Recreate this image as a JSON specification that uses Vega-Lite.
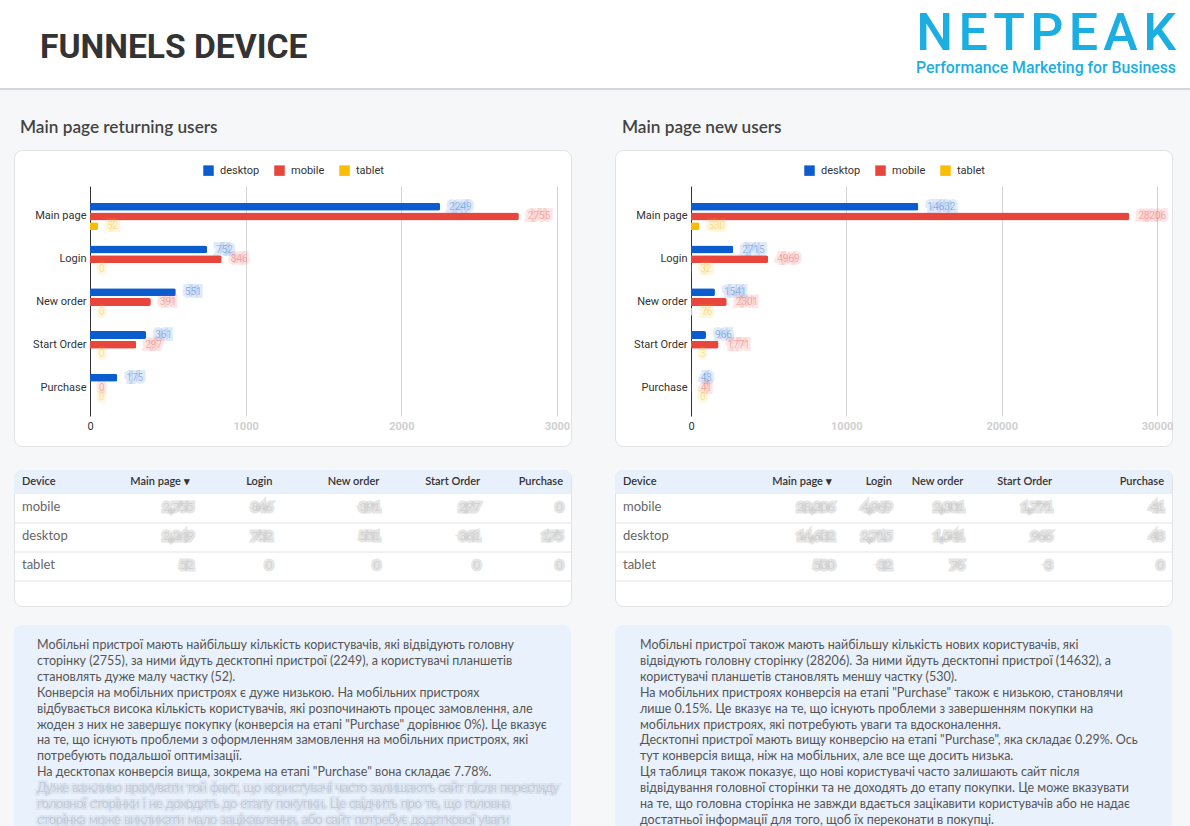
{
  "$schema": "https://vega.github.io/schema/vega-lite/v6.json",
  "background": "#f6f7f9",
  "padding": 0,
  "spacing": 0,
  "config": {"view": {"stroke": null}, "font": "Roboto"},
  "resolve": {"scale": {"color": "independent", "stroke": "independent"}, "legend": {"color": "independent", "stroke": "independent"}},
  "datasets": {
    "returning": [
      {"stage": "Main page", "device": "desktop", "users": 2249},
      {"stage": "Main page", "device": "mobile", "users": 2755},
      {"stage": "Main page", "device": "tablet", "users": 52},
      {"stage": "Login", "device": "desktop", "users": 752},
      {"stage": "Login", "device": "mobile", "users": 846},
      {"stage": "Login", "device": "tablet", "users": 0},
      {"stage": "New order", "device": "desktop", "users": 551},
      {"stage": "New order", "device": "mobile", "users": 391},
      {"stage": "New order", "device": "tablet", "users": 0},
      {"stage": "Start Order", "device": "desktop", "users": 361},
      {"stage": "Start Order", "device": "mobile", "users": 297},
      {"stage": "Start Order", "device": "tablet", "users": 0},
      {"stage": "Purchase", "device": "desktop", "users": 175},
      {"stage": "Purchase", "device": "mobile", "users": 0},
      {"stage": "Purchase", "device": "tablet", "users": 0}
    ],
    "newUsers": [
      {"stage": "Main page", "device": "desktop", "users": 14632},
      {"stage": "Main page", "device": "mobile", "users": 28206},
      {"stage": "Main page", "device": "tablet", "users": 530},
      {"stage": "Login", "device": "desktop", "users": 2715},
      {"stage": "Login", "device": "mobile", "users": 4969},
      {"stage": "Login", "device": "tablet", "users": 32},
      {"stage": "New order", "device": "desktop", "users": 1541},
      {"stage": "New order", "device": "mobile", "users": 2301},
      {"stage": "New order", "device": "tablet", "users": 76},
      {"stage": "Start Order", "device": "desktop", "users": 966},
      {"stage": "Start Order", "device": "mobile", "users": 1771},
      {"stage": "Start Order", "device": "tablet", "users": 3},
      {"stage": "Purchase", "device": "desktop", "users": 43},
      {"stage": "Purchase", "device": "mobile", "users": 41},
      {"stage": "Purchase", "device": "tablet", "users": 0}
    ],
    "notesReturning": [
      {"line": 1, "text": "Мобільні пристрої мають найбільшу кількість користувачів, які відвідують головну"},
      {"line": 2, "text": "сторінку (2755), за ними йдуть десктопні пристрої (2249), а користувачі планшетів"},
      {"line": 3, "text": "становлять дуже малу частку (52)."},
      {"line": 4, "text": "Конверсія на мобільних пристроях є дуже низькою. На мобільних пристроях"},
      {"line": 5, "text": "відбувається висока кількість користувачів, які розпочинають процес замовлення, але"},
      {"line": 6, "text": "жоден з них не завершує покупку (конверсія на етапі \"Purchase\" дорівнює 0%). Це вказує"},
      {"line": 7, "text": "на те, що існують проблеми з оформленням замовлення на мобільних пристроях, які"},
      {"line": 8, "text": "потребують подальшої оптимізації."},
      {"line": 9, "text": "На десктопах конверсія вища, зокрема на етапі \"Purchase\" вона складає 7.78%."},
      {"line": 10, "text": "Дуже важливо врахувати той факт, що користувачі часто залишають сайт після перегляду"},
      {"line": 11, "text": "головної сторінки і не доходять до етапу покупки. Це свідчить про те, що головна"},
      {"line": 12, "text": "сторінка може викликати мало зацікавлення, або сайт потребує додаткової уваги"}
    ],
    "notesNew": [
      {"line": 1, "text": "Мобільні пристрої також мають найбільшу кількість нових користувачів, які"},
      {"line": 2, "text": "відвідують головну сторінку (28206). За ними йдуть десктопні пристрої (14632), а"},
      {"line": 3, "text": "користувачі планшетів становлять меншу частку (530)."},
      {"line": 4, "text": "На мобільних пристроях конверсія на етапі \"Purchase\" також є низькою, становлячи"},
      {"line": 5, "text": "лише 0.15%. Це вказує на те, що існують проблеми з завершенням покупки на"},
      {"line": 6, "text": "мобільних пристроях, які потребують уваги та вдосконалення."},
      {"line": 7, "text": "Десктопні пристрої мають вищу конверсію на етапі \"Purchase\", яка складає 0.29%. Ось"},
      {"line": 8, "text": "тут конверсія вища, ніж на мобільних, але все ще досить низька."},
      {"line": 9, "text": "Ця таблиця також показує, що нові користувачі часто залишають сайт після"},
      {"line": 10, "text": "відвідування головної сторінки та не доходять до етапу покупки. Це може вказувати"},
      {"line": 11, "text": "на те, що головна сторінка не завжди вдається зацікавити користувачів або не надає"},
      {"line": 12, "text": "достатньої інформації для того, щоб їх переконати в покупці."}
    ]
  },
  "vconcat": [
    {
      "spacing": 0,
      "hconcat": [
        {
          "width": 595, "height": 88,
          "view": {"fill": "#ffffff", "stroke": null},
          "data": {"values": [{}]},
          "mark": {"type": "point", "size": 1, "filled": true, "opacity": 0},
          "title": {"text": "FUNNELS DEVICE", "anchor": "start", "dx": 40, "offset": -65, "font": "Roboto", "fontSize": 33.6, "fontWeight": "bold", "color": "#333333"}
        },
        {
          "width": 595, "height": 88,
          "view": {"fill": "#ffffff", "stroke": null},
          "data": {"values": [{}]},
          "mark": {"type": "point", "size": 1, "filled": true, "opacity": 0},
          "title": {
            "text": "N\u200aE\u200aT\u200aP\u200aE\u200aA\u200aK",
            "subtitle": "Performance Marketing for Business",
            "anchor": "end", "dx": -14, "offset": -77,
            "font": "Roboto", "fontSize": 52, "fontWeight": 500, "color": "#1aaee2",
            "subtitleFont": "Roboto", "subtitleFontSize": 15.8, "subtitleFontWeight": 500, "subtitleColor": "#1aaee2", "subtitlePadding": 0
          }
        }
      ]
    },
    {
      "width": 1190, "height": 2,
      "view": {"fill": "#d5d6d8", "stroke": null},
      "data": {"values": [{}]},
      "mark": {"type": "point", "size": 1, "filled": true, "opacity": 0}
    },
    {
      "spacing": 0,
      "resolve": {"scale": {"color": "independent", "stroke": "independent"}, "legend": {"color": "independent", "stroke": "independent"}},
      "hconcat": [
        {
          "width": 13, "height": 1,
          "data": {"values": [{}]},
          "mark": {"type": "point", "size": 1, "filled": true, "opacity": 0}
        },
        {
          "spacing": 0,
          "resolve": {"scale": {"color": "independent", "stroke": "independent"}, "legend": {"color": "independent", "stroke": "independent"}},
          "vconcat": [
            {
              "width": 1, "height": 28,
              "data": {"values": [{}]},
              "mark": {"type": "point", "size": 1, "filled": true, "opacity": 0}
            },
            {
              "width": 557, "height": 296,
              "view": {"fill": "#ffffff", "cornerRadius": 8, "stroke": "#e1e2e5"},
              "title": {"text": "Main page returning users", "anchor": "start", "dx": 6, "offset": 13.5, "font": "Lato", "fontSize": 17.2, "fontWeight": 600, "color": "#444444"},
              "data": {"name": "returning"},
              "encoding": {
                "y": {
                  "field": "stage", "type": "nominal",
                  "scale": {"domain": ["Main page", "Login", "New order", "Start Order", "Purchase"], "range": [37, 267], "paddingInner": 0.36, "paddingOuter": 0.37},
                  "axis": {"orient": "left", "offset": -76, "domain": false, "ticks": false, "grid": false, "labelPadding": 4, "labelFont": "Roboto", "labelFontSize": 11, "labelColor": "#333333", "title": null}
                },
                "yOffset": {"field": "device", "type": "nominal", "scale": {"domain": ["desktop", "mobile", "tablet"], "paddingInner": 0.18}},
                "x": {
                  "field": "users", "type": "quantitative",
                  "scale": {"domain": [0, 3000], "range": [76, 543], "nice": false},
                  "axis": {
                    "orient": "bottom", "offset": -30, "values": [0, 1000, 2000, 3000], "format": "d",
                    "domain": false, "grid": false, "ticks": true, "tickSize": -230, "tickWidth": 1,
                    "tickColor": {"condition": {"test": "datum.value === 0", "value": "#333333"}, "value": "#d4d4d4"},
                    "labelPadding": 234, "labelFont": "Roboto", "labelFontSize": 11, "labelFlush": false,
                    "labelColor": {"condition": {"test": "datum.value === 0", "value": "#333333"}, "value": "#d0d0d0"},
                    "labelFontWeight": {"condition": {"test": "datum.value === 0", "value": "normal"}, "value": "bold"},
                    "title": null
                  }
                }
              },
              "layer": [
                {
                  "mark": {"type": "bar", "cornerRadiusEnd": 2},
                  "encoding": {
                    "color": {
                      "field": "device", "type": "nominal",
                      "scale": {"domain": ["desktop", "mobile", "tablet"], "range": ["#0b5ccf", "#e8453c", "#fbbc04"]},
                      "legend": {"orient": "none", "legendX": 189, "legendY": 15, "direction": "horizontal", "title": null, "symbolType": "square", "symbolSize": 110, "symbolStrokeWidth": 0, "labelFont": "Roboto", "labelFontSize": 11, "labelColor": "#333333", "labelOffset": 6, "columnPadding": 14}
                    }
                  }
                },
                {
                  "mark": {"type": "text", "align": "left", "baseline": "middle", "dx": 9, "font": "Roboto", "fontSize": 10, "fillOpacity": 0.38, "strokeWidth": 6, "strokeOpacity": 0.12},
                  "encoding": {
                    "text": {"field": "users", "type": "quantitative", "format": "d"},
                    "color": {"field": "device", "type": "nominal", "scale": {"domain": ["desktop", "mobile", "tablet"], "range": ["#0b5ccf", "#e8453c", "#fbbc04"]}, "legend": null},
                    "stroke": {"field": "device", "type": "nominal", "scale": {"domain": ["desktop", "mobile", "tablet"], "range": ["#0b5ccf", "#e8453c", "#fbbc04"]}, "legend": null}
                  }
                }
              ]
            },
            {
              "width": 1, "height": 22,
              "data": {"values": [{}]},
              "mark": {"type": "point", "size": 1, "filled": true, "opacity": 0}
            },
            {
              "width": 557, "height": 136,
              "view": {"fill": "#ffffff", "cornerRadius": 8, "stroke": "#e1e2e5"},
              "data": {"name": "returning"},
              "layer": [
                {
                  "data": {"values": [{}]},
                  "mark": {"type": "rect", "color": "#e8f0fc", "clip": true},
                  "encoding": {"y": {"datum": "header", "type": "nominal", "scale": {"type": "band", "domain": ["header", "mobile", "desktop", "tablet"], "range": [-5, 111], "paddingInner": 0, "paddingOuter": 0}, "axis": null}}
                },
                {
                  "transform": [{"filter": "datum.stage === 'Main page'"}],
                  "mark": {"type": "rule", "color": "#e3e3e3"},
                  "encoding": {"y": {"field": "device", "type": "nominal", "bandPosition": 1, "scale": {"type": "band", "domain": ["header", "mobile", "desktop", "tablet"], "range": [-5, 111], "paddingInner": 0, "paddingOuter": 0}, "axis": null}}
                },
                {
                  "data": {"values": [{}]},
                  "mark": {"type": "text", "align": "left", "baseline": "middle", "dx": 8, "dy": 2.5, "font": "Lato", "fontSize": 11, "fontWeight": 600, "color": "#333333"},
                  "encoding": {
                    "x": {"datum": "Device", "type": "nominal", "bandPosition": 0, "scale": {"type": "band", "domain": ["Device", "Main page", "Login", "New order", "Start Order", "Purchase"], "paddingInner": 0, "paddingOuter": 0}, "axis": null},
                    "y": {"datum": "header", "type": "nominal", "scale": {"type": "band", "domain": ["header", "mobile", "desktop", "tablet"], "range": [-5, 111], "paddingInner": 0, "paddingOuter": 0}, "axis": null},
                    "text": {"value": "Device"}
                  }
                },
                {
                  "transform": [{"filter": "datum.stage === 'Main page'"}],
                  "mark": {"type": "text", "align": "left", "baseline": "middle", "dx": 8, "dy": -1.5, "font": "Lato", "fontSize": 13, "color": "#666666"},
                  "encoding": {
                    "x": {"datum": "Device", "type": "nominal", "bandPosition": 0, "scale": {"type": "band", "domain": ["Device", "Main page", "Login", "New order", "Start Order", "Purchase"], "paddingInner": 0, "paddingOuter": 0}, "axis": null},
                    "y": {"field": "device", "type": "nominal", "scale": {"type": "band", "domain": ["header", "mobile", "desktop", "tablet"], "range": [-5, 111], "paddingInner": 0, "paddingOuter": 0}, "axis": null},
                    "text": {"field": "device", "type": "nominal"}
                  }
                },
                {
                  "data": {"values": [{}]},
                  "mark": {"type": "text", "align": "right", "baseline": "middle", "dx": -10, "dy": 2.5, "font": "Lato", "fontSize": 11, "fontWeight": 600, "color": "#333333"},
                  "encoding": {
                    "x": {"datum": "Main page", "type": "nominal", "bandPosition": 1, "scale": {"type": "band", "domain": ["Device", "Main page", "Login", "New order", "Start Order", "Purchase"], "paddingInner": 0, "paddingOuter": 0}, "axis": null},
                    "y": {"datum": "header", "type": "nominal", "scale": {"type": "band", "domain": ["header", "mobile", "desktop", "tablet"], "range": [-5, 111], "paddingInner": 0, "paddingOuter": 0}, "axis": null},
                    "text": {"value": "Main page  ▾"}
                  }
                },
                {
                  "data": {"values": [{}]},
                  "mark": {"type": "text", "align": "right", "baseline": "middle", "dx": -20, "dy": 2.5, "font": "Lato", "fontSize": 11, "fontWeight": 600, "color": "#333333"},
                  "encoding": {
                    "x": {"datum": "Login", "type": "nominal", "bandPosition": 1, "scale": {"type": "band", "domain": ["Device", "Main page", "Login", "New order", "Start Order", "Purchase"], "paddingInner": 0, "paddingOuter": 0}, "axis": null},
                    "y": {"datum": "header", "type": "nominal", "scale": {"type": "band", "domain": ["header", "mobile", "desktop", "tablet"], "range": [-5, 111], "paddingInner": 0, "paddingOuter": 0}, "axis": null},
                    "text": {"value": "Login"}
                  }
                },
                {
                  "data": {"values": [{}]},
                  "mark": {"type": "text", "align": "right", "baseline": "middle", "dx": -6, "dy": 2.5, "font": "Lato", "fontSize": 11, "fontWeight": 600, "color": "#333333"},
                  "encoding": {
                    "x": {"datum": "New order", "type": "nominal", "bandPosition": 1, "scale": {"type": "band", "domain": ["Device", "Main page", "Login", "New order", "Start Order", "Purchase"], "paddingInner": 0, "paddingOuter": 0}, "axis": null},
                    "y": {"datum": "header", "type": "nominal", "scale": {"type": "band", "domain": ["header", "mobile", "desktop", "tablet"], "range": [-5, 111], "paddingInner": 0, "paddingOuter": 0}, "axis": null},
                    "text": {"value": "New order"}
                  }
                },
                {
                  "data": {"values": [{}]},
                  "mark": {"type": "text", "align": "right", "baseline": "middle", "dx": 2, "dy": 2.5, "font": "Lato", "fontSize": 11, "fontWeight": 600, "color": "#333333"},
                  "encoding": {
                    "x": {"datum": "Start Order", "type": "nominal", "bandPosition": 1, "scale": {"type": "band", "domain": ["Device", "Main page", "Login", "New order", "Start Order", "Purchase"], "paddingInner": 0, "paddingOuter": 0}, "axis": null},
                    "y": {"datum": "header", "type": "nominal", "scale": {"type": "band", "domain": ["header", "mobile", "desktop", "tablet"], "range": [-5, 111], "paddingInner": 0, "paddingOuter": 0}, "axis": null},
                    "text": {"value": "Start Order"}
                  }
                },
                {
                  "data": {"values": [{}]},
                  "mark": {"type": "text", "align": "right", "baseline": "middle", "dx": -8, "dy": 2.5, "font": "Lato", "fontSize": 11, "fontWeight": 600, "color": "#333333"},
                  "encoding": {
                    "x": {"datum": "Purchase", "type": "nominal", "bandPosition": 1, "scale": {"type": "band", "domain": ["Device", "Main page", "Login", "New order", "Start Order", "Purchase"], "paddingInner": 0, "paddingOuter": 0}, "axis": null},
                    "y": {"datum": "header", "type": "nominal", "scale": {"type": "band", "domain": ["header", "mobile", "desktop", "tablet"], "range": [-5, 111], "paddingInner": 0, "paddingOuter": 0}, "axis": null},
                    "text": {"value": "Purchase"}
                  }
                },
                {
                  "transform": [{"filter": "datum.stage === 'Main page'"}],
                  "mark": {"type": "text", "align": "right", "baseline": "middle", "dx": -6, "dy": -1.5, "font": "Lato", "fontSize": 12, "fill": "#a0a0a0", "fillOpacity": 0.35, "stroke": "#c4c4c4", "strokeWidth": 5, "strokeOpacity": 0.45},
                  "encoding": {
                    "x": {"field": "stage", "type": "nominal", "bandPosition": 1, "scale": {"type": "band", "domain": ["Device", "Main page", "Login", "New order", "Start Order", "Purchase"], "paddingInner": 0, "paddingOuter": 0}, "axis": null},
                    "y": {"field": "device", "type": "nominal", "scale": {"type": "band", "domain": ["header", "mobile", "desktop", "tablet"], "range": [-5, 111], "paddingInner": 0, "paddingOuter": 0}, "axis": null},
                    "text": {"field": "users", "type": "quantitative", "format": ",d"}
                  }
                },
                {
                  "transform": [{"filter": "datum.stage === 'Login'"}],
                  "mark": {"type": "text", "align": "right", "baseline": "middle", "dx": -20, "dy": -1.5, "font": "Lato", "fontSize": 12, "fill": "#a0a0a0", "fillOpacity": 0.35, "stroke": "#c4c4c4", "strokeWidth": 5, "strokeOpacity": 0.45},
                  "encoding": {
                    "x": {"field": "stage", "type": "nominal", "bandPosition": 1, "scale": {"type": "band", "domain": ["Device", "Main page", "Login", "New order", "Start Order", "Purchase"], "paddingInner": 0, "paddingOuter": 0}, "axis": null},
                    "y": {"field": "device", "type": "nominal", "scale": {"type": "band", "domain": ["header", "mobile", "desktop", "tablet"], "range": [-5, 111], "paddingInner": 0, "paddingOuter": 0}, "axis": null},
                    "text": {"field": "users", "type": "quantitative", "format": ",d"}
                  }
                },
                {
                  "transform": [{"filter": "datum.stage === 'New order'"}],
                  "mark": {"type": "text", "align": "right", "baseline": "middle", "dx": -5, "dy": -1.5, "font": "Lato", "fontSize": 12, "fill": "#a0a0a0", "fillOpacity": 0.35, "stroke": "#c4c4c4", "strokeWidth": 5, "strokeOpacity": 0.45},
                  "encoding": {
                    "x": {"field": "stage", "type": "nominal", "bandPosition": 1, "scale": {"type": "band", "domain": ["Device", "Main page", "Login", "New order", "Start Order", "Purchase"], "paddingInner": 0, "paddingOuter": 0}, "axis": null},
                    "y": {"field": "device", "type": "nominal", "scale": {"type": "band", "domain": ["header", "mobile", "desktop", "tablet"], "range": [-5, 111], "paddingInner": 0, "paddingOuter": 0}, "axis": null},
                    "text": {"field": "users", "type": "quantitative", "format": ",d"}
                  }
                },
                {
                  "transform": [{"filter": "datum.stage === 'Start Order'"}],
                  "mark": {"type": "text", "align": "right", "baseline": "middle", "dx": 2, "dy": -1.5, "font": "Lato", "fontSize": 12, "fill": "#a0a0a0", "fillOpacity": 0.35, "stroke": "#c4c4c4", "strokeWidth": 5, "strokeOpacity": 0.45},
                  "encoding": {
                    "x": {"field": "stage", "type": "nominal", "bandPosition": 1, "scale": {"type": "band", "domain": ["Device", "Main page", "Login", "New order", "Start Order", "Purchase"], "paddingInner": 0, "paddingOuter": 0}, "axis": null},
                    "y": {"field": "device", "type": "nominal", "scale": {"type": "band", "domain": ["header", "mobile", "desktop", "tablet"], "range": [-5, 111], "paddingInner": 0, "paddingOuter": 0}, "axis": null},
                    "text": {"field": "users", "type": "quantitative", "format": ",d"}
                  }
                },
                {
                  "transform": [{"filter": "datum.stage === 'Purchase'"}],
                  "mark": {"type": "text", "align": "right", "baseline": "middle", "dx": -8, "dy": -1.5, "font": "Lato", "fontSize": 12, "fill": "#a0a0a0", "fillOpacity": 0.35, "stroke": "#c4c4c4", "strokeWidth": 5, "strokeOpacity": 0.45},
                  "encoding": {
                    "x": {"field": "stage", "type": "nominal", "bandPosition": 1, "scale": {"type": "band", "domain": ["Device", "Main page", "Login", "New order", "Start Order", "Purchase"], "paddingInner": 0, "paddingOuter": 0}, "axis": null},
                    "y": {"field": "device", "type": "nominal", "scale": {"type": "band", "domain": ["header", "mobile", "desktop", "tablet"], "range": [-5, 111], "paddingInner": 0, "paddingOuter": 0}, "axis": null},
                    "text": {"field": "users", "type": "quantitative", "format": ",d"}
                  }
                }
              ]
            },
            {
              "width": 1, "height": 18,
              "data": {"values": [{}]},
              "mark": {"type": "point", "size": 1, "filled": true, "opacity": 0}
            },
            {
              "width": 557, "height": 206,
              "view": {"fill": "#e9f1fc", "cornerRadius": 8, "stroke": null},
              "data": {"name": "notesReturning"},
              "encoding": {
                "x": {"datum": 0, "type": "quantitative", "scale": {"domain": [0, 1], "range": [23, 534]}, "axis": null},
                "y": {"field": "line", "type": "ordinal", "scale": {"type": "point", "domain": [1, 2, 3, 4, 5, 6, 7, 8, 9, 10, 11, 12], "range": [20, 195], "padding": 0}, "axis": null},
                "text": {"field": "text", "type": "nominal"}
              },
              "layer": [
                {
                  "transform": [{"filter": "datum.line <= 9"}],
                  "mark": {"type": "text", "align": "left", "baseline": "middle", "font": "Lato", "fontSize": 12.5, "color": "#555555", "clip": true}
                },
                {
                  "transform": [{"filter": "datum.line > 9"}],
                  "mark": {"type": "text", "align": "left", "baseline": "middle", "font": "Lato", "fontSize": 12.5, "fill": "#7d8796", "fillOpacity": 0.28, "stroke": "#8e99aa", "strokeWidth": 4, "strokeOpacity": 0.14, "clip": true}
                }
              ]
            }
          ]
        },
        {
          "width": 42, "height": 1,
          "data": {"values": [{}]},
          "mark": {"type": "point", "size": 1, "filled": true, "opacity": 0}
        },
        {
          "spacing": 0,
          "resolve": {"scale": {"color": "independent", "stroke": "independent"}, "legend": {"color": "independent", "stroke": "independent"}},
          "vconcat": [
            {
              "width": 1, "height": 28,
              "data": {"values": [{}]},
              "mark": {"type": "point", "size": 1, "filled": true, "opacity": 0}
            },
            {
              "width": 557, "height": 296,
              "view": {"fill": "#ffffff", "cornerRadius": 8, "stroke": "#e1e2e5"},
              "title": {"text": "Main page new users", "anchor": "start", "dx": 7, "offset": 13.5, "font": "Lato", "fontSize": 17.2, "fontWeight": 600, "color": "#444444"},
              "data": {"name": "newUsers"},
              "encoding": {
                "y": {
                  "field": "stage", "type": "nominal",
                  "scale": {"domain": ["Main page", "Login", "New order", "Start Order", "Purchase"], "range": [37, 267], "paddingInner": 0.36, "paddingOuter": 0.37},
                  "axis": {"orient": "left", "offset": -76, "domain": false, "ticks": false, "grid": false, "labelPadding": 4, "labelFont": "Roboto", "labelFontSize": 11, "labelColor": "#333333", "title": null}
                },
                "yOffset": {"field": "device", "type": "nominal", "scale": {"domain": ["desktop", "mobile", "tablet"], "paddingInner": 0.18}},
                "x": {
                  "field": "users", "type": "quantitative",
                  "scale": {"domain": [0, 30000], "range": [76, 542], "nice": false},
                  "axis": {
                    "orient": "bottom", "offset": -30, "values": [0, 10000, 20000, 30000], "format": "d",
                    "domain": false, "grid": false, "ticks": true, "tickSize": -230, "tickWidth": 1,
                    "tickColor": {"condition": {"test": "datum.value === 0", "value": "#333333"}, "value": "#d4d4d4"},
                    "labelPadding": 234, "labelFont": "Roboto", "labelFontSize": 11, "labelFlush": false,
                    "labelColor": {"condition": {"test": "datum.value === 0", "value": "#333333"}, "value": "#d0d0d0"},
                    "labelFontWeight": {"condition": {"test": "datum.value === 0", "value": "normal"}, "value": "bold"},
                    "title": null
                  }
                }
              },
              "layer": [
                {
                  "mark": {"type": "bar", "cornerRadiusEnd": 2},
                  "encoding": {
                    "color": {
                      "field": "device", "type": "nominal",
                      "scale": {"domain": ["desktop", "mobile", "tablet"], "range": ["#0b5ccf", "#e8453c", "#fbbc04"]},
                      "legend": {"orient": "none", "legendX": 189, "legendY": 15, "direction": "horizontal", "title": null, "symbolType": "square", "symbolSize": 110, "symbolStrokeWidth": 0, "labelFont": "Roboto", "labelFontSize": 11, "labelColor": "#333333", "labelOffset": 6, "columnPadding": 14}
                    }
                  }
                },
                {
                  "mark": {"type": "text", "align": "left", "baseline": "middle", "dx": 9, "font": "Roboto", "fontSize": 10, "fillOpacity": 0.38, "strokeWidth": 6, "strokeOpacity": 0.12},
                  "encoding": {
                    "text": {"field": "users", "type": "quantitative", "format": "d"},
                    "color": {"field": "device", "type": "nominal", "scale": {"domain": ["desktop", "mobile", "tablet"], "range": ["#0b5ccf", "#e8453c", "#fbbc04"]}, "legend": null},
                    "stroke": {"field": "device", "type": "nominal", "scale": {"domain": ["desktop", "mobile", "tablet"], "range": ["#0b5ccf", "#e8453c", "#fbbc04"]}, "legend": null}
                  }
                }
              ]
            },
            {
              "width": 1, "height": 22,
              "data": {"values": [{}]},
              "mark": {"type": "point", "size": 1, "filled": true, "opacity": 0}
            },
            {
              "width": 557, "height": 136,
              "view": {"fill": "#ffffff", "cornerRadius": 8, "stroke": "#e1e2e5"},
              "data": {"name": "newUsers"},
              "layer": [
                {
                  "data": {"values": [{}]},
                  "mark": {"type": "rect", "color": "#e8f0fc", "clip": true},
                  "encoding": {"y": {"datum": "header", "type": "nominal", "scale": {"type": "band", "domain": ["header", "mobile", "desktop", "tablet"], "range": [-5, 111], "paddingInner": 0, "paddingOuter": 0}, "axis": null}}
                },
                {
                  "transform": [{"filter": "datum.stage === 'Main page'"}],
                  "mark": {"type": "rule", "color": "#e3e3e3"},
                  "encoding": {"y": {"field": "device", "type": "nominal", "bandPosition": 1, "scale": {"type": "band", "domain": ["header", "mobile", "desktop", "tablet"], "range": [-5, 111], "paddingInner": 0, "paddingOuter": 0}, "axis": null}}
                },
                {
                  "data": {"values": [{}]},
                  "mark": {"type": "text", "align": "left", "baseline": "middle", "dx": 8, "dy": 2.5, "font": "Lato", "fontSize": 11, "fontWeight": 600, "color": "#333333"},
                  "encoding": {
                    "x": {"datum": "Device", "type": "nominal", "bandPosition": 0, "scale": {"type": "band", "domain": ["Device", "Main page", "Login", "New order", "Start Order", "Purchase"], "paddingInner": 0, "paddingOuter": 0}, "axis": null},
                    "y": {"datum": "header", "type": "nominal", "scale": {"type": "band", "domain": ["header", "mobile", "desktop", "tablet"], "range": [-5, 111], "paddingInner": 0, "paddingOuter": 0}, "axis": null},
                    "text": {"value": "Device"}
                  }
                },
                {
                  "transform": [{"filter": "datum.stage === 'Main page'"}],
                  "mark": {"type": "text", "align": "left", "baseline": "middle", "dx": 8, "dy": -1.5, "font": "Lato", "fontSize": 13, "color": "#666666"},
                  "encoding": {
                    "x": {"datum": "Device", "type": "nominal", "bandPosition": 0, "scale": {"type": "band", "domain": ["Device", "Main page", "Login", "New order", "Start Order", "Purchase"], "paddingInner": 0, "paddingOuter": 0}, "axis": null},
                    "y": {"field": "device", "type": "nominal", "scale": {"type": "band", "domain": ["header", "mobile", "desktop", "tablet"], "range": [-5, 111], "paddingInner": 0, "paddingOuter": 0}, "axis": null},
                    "text": {"field": "device", "type": "nominal"}
                  }
                },
                {
                  "data": {"values": [{}]},
                  "mark": {"type": "text", "align": "right", "baseline": "middle", "dx": 31, "dy": 2.5, "font": "Lato", "fontSize": 11, "fontWeight": 600, "color": "#333333"},
                  "encoding": {
                    "x": {"datum": "Main page", "type": "nominal", "bandPosition": 1, "scale": {"type": "band", "domain": ["Device", "Main page", "Login", "New order", "Start Order", "Purchase"], "paddingInner": 0, "paddingOuter": 0}, "axis": null},
                    "y": {"datum": "header", "type": "nominal", "scale": {"type": "band", "domain": ["header", "mobile", "desktop", "tablet"], "range": [-5, 111], "paddingInner": 0, "paddingOuter": 0}, "axis": null},
                    "text": {"value": "Main page  ▾"}
                  }
                },
                {
                  "data": {"values": [{}]},
                  "mark": {"type": "text", "align": "right", "baseline": "middle", "dx": -1.5, "dy": 2.5, "font": "Lato", "fontSize": 11, "fontWeight": 600, "color": "#333333"},
                  "encoding": {
                    "x": {"datum": "Login", "type": "nominal", "bandPosition": 1, "scale": {"type": "band", "domain": ["Device", "Main page", "Login", "New order", "Start Order", "Purchase"], "paddingInner": 0, "paddingOuter": 0}, "axis": null},
                    "y": {"datum": "header", "type": "nominal", "scale": {"type": "band", "domain": ["header", "mobile", "desktop", "tablet"], "range": [-5, 111], "paddingInner": 0, "paddingOuter": 0}, "axis": null},
                    "text": {"value": "Login"}
                  }
                },
                {
                  "data": {"values": [{}]},
                  "mark": {"type": "text", "align": "right", "baseline": "middle", "dx": -23, "dy": 2.5, "font": "Lato", "fontSize": 11, "fontWeight": 600, "color": "#333333"},
                  "encoding": {
                    "x": {"datum": "New order", "type": "nominal", "bandPosition": 1, "scale": {"type": "band", "domain": ["Device", "Main page", "Login", "New order", "Start Order", "Purchase"], "paddingInner": 0, "paddingOuter": 0}, "axis": null},
                    "y": {"datum": "header", "type": "nominal", "scale": {"type": "band", "domain": ["header", "mobile", "desktop", "tablet"], "range": [-5, 111], "paddingInner": 0, "paddingOuter": 0}, "axis": null},
                    "text": {"value": "New order"}
                  }
                },
                {
                  "data": {"values": [{}]},
                  "mark": {"type": "text", "align": "right", "baseline": "middle", "dx": -27, "dy": 2.5, "font": "Lato", "fontSize": 11, "fontWeight": 600, "color": "#333333"},
                  "encoding": {
                    "x": {"datum": "Start Order", "type": "nominal", "bandPosition": 1, "scale": {"type": "band", "domain": ["Device", "Main page", "Login", "New order", "Start Order", "Purchase"], "paddingInner": 0, "paddingOuter": 0}, "axis": null},
                    "y": {"datum": "header", "type": "nominal", "scale": {"type": "band", "domain": ["header", "mobile", "desktop", "tablet"], "range": [-5, 111], "paddingInner": 0, "paddingOuter": 0}, "axis": null},
                    "text": {"value": "Start Order"}
                  }
                },
                {
                  "data": {"values": [{}]},
                  "mark": {"type": "text", "align": "right", "baseline": "middle", "dx": -8, "dy": 2.5, "font": "Lato", "fontSize": 11, "fontWeight": 600, "color": "#333333"},
                  "encoding": {
                    "x": {"datum": "Purchase", "type": "nominal", "bandPosition": 1, "scale": {"type": "band", "domain": ["Device", "Main page", "Login", "New order", "Start Order", "Purchase"], "paddingInner": 0, "paddingOuter": 0}, "axis": null},
                    "y": {"datum": "header", "type": "nominal", "scale": {"type": "band", "domain": ["header", "mobile", "desktop", "tablet"], "range": [-5, 111], "paddingInner": 0, "paddingOuter": 0}, "axis": null},
                    "text": {"value": "Purchase"}
                  }
                },
                {
                  "transform": [{"filter": "datum.stage === 'Main page'"}],
                  "mark": {"type": "text", "align": "right", "baseline": "middle", "dx": 34, "dy": -1.5, "font": "Lato", "fontSize": 12, "fill": "#a0a0a0", "fillOpacity": 0.35, "stroke": "#c4c4c4", "strokeWidth": 5, "strokeOpacity": 0.45},
                  "encoding": {
                    "x": {"field": "stage", "type": "nominal", "bandPosition": 1, "scale": {"type": "band", "domain": ["Device", "Main page", "Login", "New order", "Start Order", "Purchase"], "paddingInner": 0, "paddingOuter": 0}, "axis": null},
                    "y": {"field": "device", "type": "nominal", "scale": {"type": "band", "domain": ["header", "mobile", "desktop", "tablet"], "range": [-5, 111], "paddingInner": 0, "paddingOuter": 0}, "axis": null},
                    "text": {"field": "users", "type": "quantitative", "format": ",d"}
                  }
                },
                {
                  "transform": [{"filter": "datum.stage === 'Login'"}],
                  "mark": {"type": "text", "align": "right", "baseline": "middle", "dx": -1.5, "dy": -1.5, "font": "Lato", "fontSize": 12, "fill": "#a0a0a0", "fillOpacity": 0.35, "stroke": "#c4c4c4", "strokeWidth": 5, "strokeOpacity": 0.45},
                  "encoding": {
                    "x": {"field": "stage", "type": "nominal", "bandPosition": 1, "scale": {"type": "band", "domain": ["Device", "Main page", "Login", "New order", "Start Order", "Purchase"], "paddingInner": 0, "paddingOuter": 0}, "axis": null},
                    "y": {"field": "device", "type": "nominal", "scale": {"type": "band", "domain": ["header", "mobile", "desktop", "tablet"], "range": [-5, 111], "paddingInner": 0, "paddingOuter": 0}, "axis": null},
                    "text": {"field": "users", "type": "quantitative", "format": ",d"}
                  }
                },
                {
                  "transform": [{"filter": "datum.stage === 'New order'"}],
                  "mark": {"type": "text", "align": "right", "baseline": "middle", "dx": -22, "dy": -1.5, "font": "Lato", "fontSize": 12, "fill": "#a0a0a0", "fillOpacity": 0.35, "stroke": "#c4c4c4", "strokeWidth": 5, "strokeOpacity": 0.45},
                  "encoding": {
                    "x": {"field": "stage", "type": "nominal", "bandPosition": 1, "scale": {"type": "band", "domain": ["Device", "Main page", "Login", "New order", "Start Order", "Purchase"], "paddingInner": 0, "paddingOuter": 0}, "axis": null},
                    "y": {"field": "device", "type": "nominal", "scale": {"type": "band", "domain": ["header", "mobile", "desktop", "tablet"], "range": [-5, 111], "paddingInner": 0, "paddingOuter": 0}, "axis": null},
                    "text": {"field": "users", "type": "quantitative", "format": ",d"}
                  }
                },
                {
                  "transform": [{"filter": "datum.stage === 'Start Order'"}],
                  "mark": {"type": "text", "align": "right", "baseline": "middle", "dx": -27, "dy": -1.5, "font": "Lato", "fontSize": 12, "fill": "#a0a0a0", "fillOpacity": 0.35, "stroke": "#c4c4c4", "strokeWidth": 5, "strokeOpacity": 0.45},
                  "encoding": {
                    "x": {"field": "stage", "type": "nominal", "bandPosition": 1, "scale": {"type": "band", "domain": ["Device", "Main page", "Login", "New order", "Start Order", "Purchase"], "paddingInner": 0, "paddingOuter": 0}, "axis": null},
                    "y": {"field": "device", "type": "nominal", "scale": {"type": "band", "domain": ["header", "mobile", "desktop", "tablet"], "range": [-5, 111], "paddingInner": 0, "paddingOuter": 0}, "axis": null},
                    "text": {"field": "users", "type": "quantitative", "format": ",d"}
                  }
                },
                {
                  "transform": [{"filter": "datum.stage === 'Purchase'"}],
                  "mark": {"type": "text", "align": "right", "baseline": "middle", "dx": -8, "dy": -1.5, "font": "Lato", "fontSize": 12, "fill": "#a0a0a0", "fillOpacity": 0.35, "stroke": "#c4c4c4", "strokeWidth": 5, "strokeOpacity": 0.45},
                  "encoding": {
                    "x": {"field": "stage", "type": "nominal", "bandPosition": 1, "scale": {"type": "band", "domain": ["Device", "Main page", "Login", "New order", "Start Order", "Purchase"], "paddingInner": 0, "paddingOuter": 0}, "axis": null},
                    "y": {"field": "device", "type": "nominal", "scale": {"type": "band", "domain": ["header", "mobile", "desktop", "tablet"], "range": [-5, 111], "paddingInner": 0, "paddingOuter": 0}, "axis": null},
                    "text": {"field": "users", "type": "quantitative", "format": ",d"}
                  }
                }
              ]
            },
            {
              "width": 1, "height": 18,
              "data": {"values": [{}]},
              "mark": {"type": "point", "size": 1, "filled": true, "opacity": 0}
            },
            {
              "width": 557, "height": 206,
              "view": {"fill": "#e9f1fc", "cornerRadius": 8, "stroke": null},
              "data": {"name": "notesNew"},
              "encoding": {
                "x": {"datum": 0, "type": "quantitative", "scale": {"domain": [0, 1], "range": [25, 536]}, "axis": null},
                "y": {"field": "line", "type": "ordinal", "scale": {"type": "point", "domain": [1, 2, 3, 4, 5, 6, 7, 8, 9, 10, 11, 12], "range": [20, 195], "padding": 0}, "axis": null},
                "text": {"field": "text", "type": "nominal"}
              },
              "mark": {"type": "text", "align": "left", "baseline": "middle", "font": "Lato", "fontSize": 12.5, "color": "#555555", "clip": true}
            }
          ]
        }
      ]
    }
  ]
}
